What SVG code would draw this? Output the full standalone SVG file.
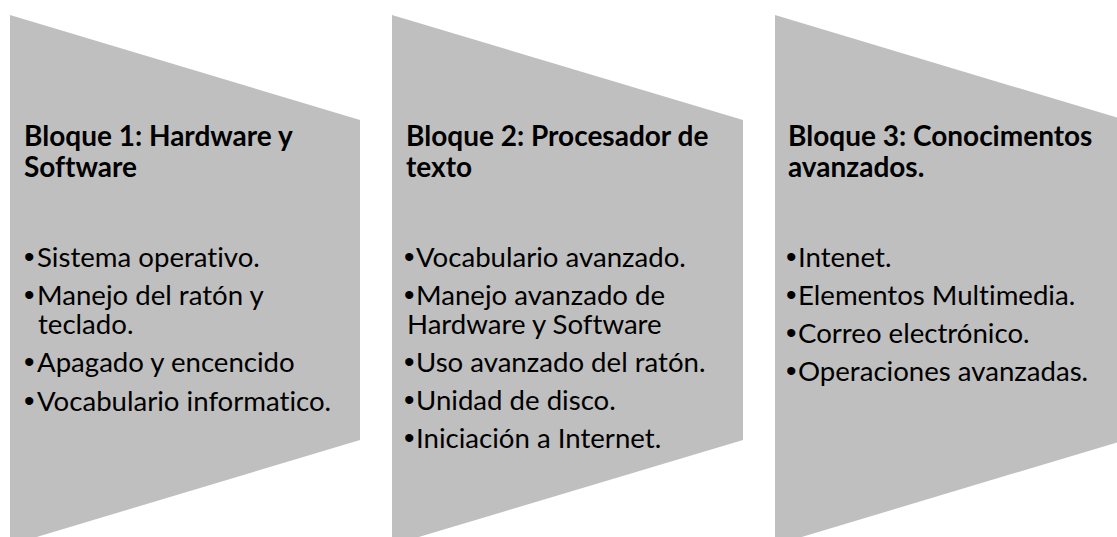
<svg xmlns="http://www.w3.org/2000/svg" width="1117" height="537" viewBox="0 0 1117 537">
<style>
.shape{fill:#BFBFBF;stroke:none}
.h{font-family:Lato,"Liberation Sans",sans-serif;font-weight:bold;font-size:28px;fill:#000;font-variant-ligatures:none}
.b{font-family:Lato,"Liberation Sans",sans-serif;font-size:27.6px;fill:#000;font-variant-ligatures:none}
.dot{font-family:"Liberation Sans",sans-serif;font-size:30px;fill:#000}
</style>
<rect width="1117" height="537" fill="#FFFFFF"/>
<g id="bloque1">
<polygon class="shape" points="10,15 360,120 360,440 10,545"/>
<text class="h" x="24" y="146">Bloque 1: Hardware y</text>
<text class="h" x="24" y="177">Software</text>
<text class="dot" x="24" y="267">•</text><text class="b" x="37" y="267">Sistema operativo.</text>
<text class="dot" x="24" y="305">•</text><text class="b" x="37" y="305">Manejo del ratón y</text>
<text class="b" x="38" y="334">teclado.</text>
<text class="dot" x="24" y="372">•</text><text class="b" x="37" y="372">Apagado y encencido</text>
<text class="dot" x="24" y="410.5">•</text><text class="b" x="37" y="410.5">Vocabulario informatico.</text>
</g>
<g id="bloque2">
<polygon class="shape" points="392,15 743,120 743,440 392,545"/>
<text class="h" x="406" y="146">Bloque 2: Procesador de</text>
<text class="h" x="406" y="177">texto</text>
<text class="dot" x="404" y="267">•</text><text class="b" x="416" y="267">Vocabulario avanzado.</text>
<text class="dot" x="404" y="305">•</text><text class="b" x="416" y="305">Manejo avanzado de</text>
<text class="b" x="407" y="334">Hardware y Software</text>
<text class="dot" x="404" y="372">•</text><text class="b" x="416" y="372">Uso avanzado del ratón.</text>
<text class="dot" x="404" y="410">•</text><text class="b" x="416" y="410">Unidad de disco.</text>
<text class="dot" x="404" y="447.5">•</text><text class="b" x="416" y="447.5">Iniciación a Internet.</text>
</g>
<g id="bloque3">
<polygon class="shape" points="775,15 1125,120 1125,440 775,545"/>
<text class="h" x="788" y="146">Bloque 3: Conocimentos</text>
<text class="h" x="788" y="177">avanzados.</text>
<text class="dot" x="786" y="267">•</text><text class="b" x="798" y="267">Intenet.</text>
<text class="dot" x="786" y="305">•</text><text class="b" x="798" y="305">Elementos Multimedia.</text>
<text class="dot" x="786" y="343">•</text><text class="b" x="798" y="343">Correo electrónico.</text>
<text class="dot" x="786" y="381">•</text><text class="b" x="798" y="381">Operaciones avanzadas.</text>
</g>
<g id="connectors"/>
</svg>
